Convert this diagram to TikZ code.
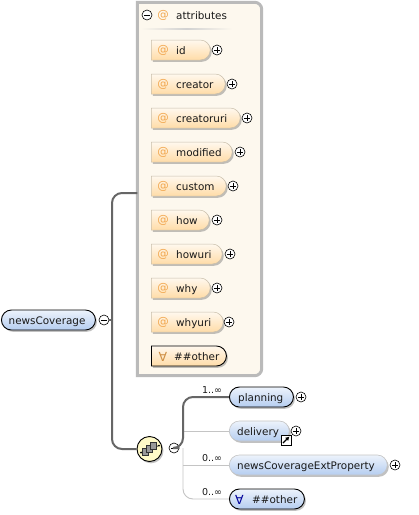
\documentclass[tikz,border=0pt]{standalone}
\usepackage{fontspec}
\setmainfont{DejaVu Sans}
\usetikzlibrary{positioning, calc, arrows.meta, shapes.misc, shadows}
\definecolor{Tan}{HTML}{FFDCA8}
\definecolor{TanEdge}{HTML}{C9BEAA}
\definecolor{Cream}{HTML}{FDF8EE}
\definecolor{Sky}{HTML}{B5CDF0}
\definecolor{Wire}{HTML}{666666}
\definecolor{WireLight}{HTML}{C4C4C4}
\definecolor{Tag}{HTML}{F2A850}
\definecolor{Pale}{HTML}{FFFAC8}
\tikzset{
    softshadow/.style={drop shadow={shadow xshift=1.5pt, shadow yshift=-1.8pt, opacity=0.4, fill=black!60}},
    attrbox/.style={rounded rectangle, rounded rectangle left arc=none, minimum height=20pt, inner sep=0pt, top color=white!80!Tan, bottom color=Tan, draw=TanEdge, line width=0.5pt, softshadow},
    elembox/.style={rounded rectangle, minimum height=20pt, inner sep=0pt, top color=white!75!Sky, bottom color=Sky, draw=black, line width=0.9pt, softshadow},
    optbox/.style={elembox, draw=WireLight, line width=0.6pt},
    boxtext/.style={font=\fontsize{10.4}{12}\selectfont, text=black!90, inner sep=0pt, text height=9pt, text depth=1pt, anchor=west},
    tagtext/.style={font=\fontsize{11.5}{12}\selectfont, text=Tag, inner sep=0pt},
    anytag/.style={font=\fontsize{12.5}{13}\selectfont, inner sep=0pt},
    occurs/.style={font=\fontsize{9.5}{11}\selectfont, text=black!90, inner sep=0pt},
    plusicon/.style={circle, draw=black, fill=white, line width=0.6pt, minimum size=10pt, inner sep=0pt,
        path picture={\draw[line width=0.6pt] ([xshift=-2.6pt]path picture bounding box.center) -- ([xshift=2.6pt]path picture bounding box.center)
            ([yshift=-2.6pt]path picture bounding box.center) -- ([yshift=2.6pt]path picture bounding box.center);}},
    minusicon/.style={circle, draw=black, fill=white, line width=0.6pt, minimum size=10pt, inner sep=0pt,
        path picture={\draw[line width=0.6pt] ([xshift=-2.6pt]path picture bounding box.center) -- ([xshift=2.6pt]path picture bounding box.center);}},
    wire/.style={draw=Wire, line width=2pt},
    thinwire/.style={draw=WireLight, line width=0.9pt},
}

\begin{document}
\begin{tikzpicture}[x=1pt, y=-1pt]
    \useasboundingbox (0,0) rectangle (419,515);

    % --- attributes container ---
    \fill[white] (0,0) rectangle (419,515);
    \node[rectangle, minimum width=124pt, minimum height=373pt, inner sep=0pt] (attrgroup) at (199.5,189) {};
    \draw[draw=black!27, fill=Cream, line width=3pt] (attrgroup.south west) -- (attrgroup.north west)
        [rounded corners=7pt] -- (attrgroup.north east) -- (attrgroup.south east) [sharp corners] -- cycle;
    \node[minusicon] (attrminus) at (147,15) {};
    \node[tagtext] (attrtag) at (163,15) {@};
    \node[boxtext] (attrtitle) at (176,15) {attributes};
    \shade[left color=Cream, right color=Cream, middle color=black!18] (141,28.5) rectangle (232,29.5);

    % --- attribute rows ---
    \foreach \name/\boxw/\ypos/\plusx in {id/59/50/217, creator/74/84/232, creatoruri/89/118/247, modified/81/152/240, custom/75/186/233, how/58/220/217, howuri/71/254/230, why/59/288/217, whyuri/72/322/229} {
        \node[attrbox, minimum width=\boxw pt, anchor=west] (box\name) at (151,\ypos) {};
        \node[tagtext] (tag\name) at (163,\ypos) {@};
        \node[boxtext] (text\name) at (176,\ypos) {\name};
        \node[plusicon] (plus\name) at (\plusx,\ypos) {};
    }

    % any attribute
    \node[attrbox, draw=black, line width=0.9pt, minimum width=75pt, anchor=west] (boxany) at (151,356) {};
    \node[anytag, text=Tag!85!black] (tagany) at (163,356.5) {∀};
    \node[boxtext] (textany) at (174,356) {\#\#other};

    % --- root ---
    \node[elembox, minimum width=94pt, anchor=west] (root) at (1,320) {};
    \node[boxtext] (roottext) at (8.5,320) {newsCoverage};
    \node[minusicon] (rootminus) at (104,320) {};

    % --- sequence ---
    \node[circle, draw=black, fill=Pale, line width=0.9pt, minimum size=25pt, inner sep=0pt, softshadow] (seq) at (149.5,449) {};
    \node[minusicon] (seqminus) at (174,448) {};
    \coordinate (seqin) at (141,452.5);
    \coordinate (seqout) at (159,445.5);
    \draw[black, line width=0.7pt] (seqin) -- (seqout);
    \fill[black] (seqin) circle (1pt) (seqout) circle (1pt);
    \foreach \dx/\dy/\sq in {-4/3/a, 0/0/b, 4/-3/c}
        \node[rectangle, draw=black!80, fill=black!40, line width=0.6pt, minimum size=6.5pt, inner sep=0pt] (seq\sq) at (149.5+\dx,449+\dy) {};

    % --- children ---
    \node[elembox, minimum width=64pt, anchor=west] (planning) at (229,397) {};
    \node[boxtext] (planningtext) at (238,397) {planning};
    \node[plusicon] (plusplanning) at (301,397) {};

    \node[optbox, minimum width=60pt, anchor=west] (delivery) at (229,431) {};
    \node[boxtext] (deliverytext) at (237,431) {delivery};
    \node[plusicon] (plusdelivery) at (296,431) {};
    \node[rectangle, draw=black, fill=white, line width=1pt, minimum size=10pt, inner sep=0pt] (shortcut) at (286,440) {};
    \draw[-{Latex[length=4pt,width=4.5pt]}, line width=1.3pt] ([shift={(-3pt,-3pt)}]shortcut.center) -- ([shift={(3.5pt,3.5pt)}]shortcut.center);

    \node[optbox, minimum width=158pt, anchor=west] (extprop) at (229,465) {};
    \node[boxtext] (extproptext) at (237,465) {newsCoverageExtProperty};
    \node[plusicon] (plusextprop) at (395,465) {};

    \node[elembox, minimum width=75pt, anchor=west] (anyelem) at (229,499) {};
    \node[anytag, text=blue!60!black] (anyelemtag) at (239.5,499.5) {∀};
    \node[boxtext] (anytext) at (252,499) {\#\#other};

    % occurrence labels
    \node[occurs] (occplanning) at (212,390) {1..∞};
    \node[occurs] (occextprop) at (212,458) {0..∞};
    \node[occurs] (occany) at (212,492) {0..∞};

    % --- connectors ---
    \coordinate (trunk) at (112,320);
    \coordinate (attrin) at (attrgroup.west |- 0,193);
    \coordinate (fork) at (183,448);
    \draw[wire] (rootminus) -- (trunk);
    \draw[wire, rounded corners=10pt] (attrin) -| (trunk) |- (seq.west);
    \draw[thinwire] (fork |- delivery.west) -- (delivery.west);
    \draw[thinwire] (fork |- extprop.west) -- (extprop.west);
    \draw[thinwire, rounded corners=10pt] (fork) |- (anyelem.west);
    \draw[wire, rounded corners=10pt] (seqminus.east) -- (fork) |- (planning.west);
\end{tikzpicture}
\end{document}
